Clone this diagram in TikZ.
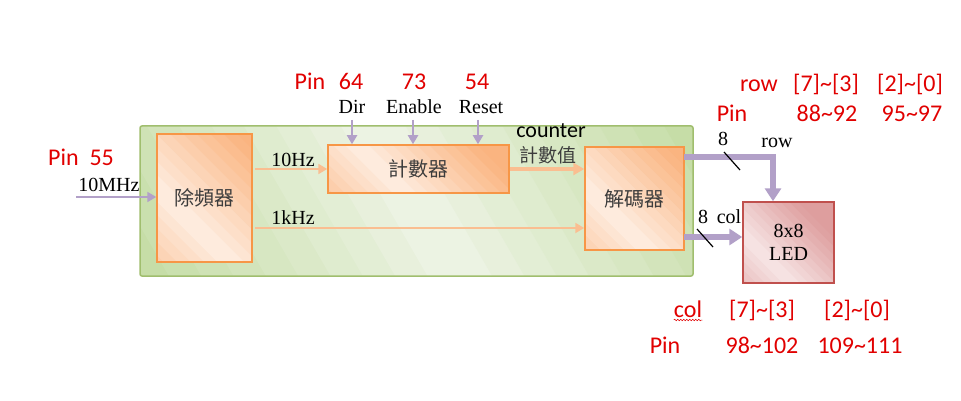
\documentclass[tikz,border=0pt]{standalone}
\usepackage{fontspec}
\setmainfont{Liberation Serif}
\newfontfamily\calfont{Carlito}
\newfontfamily\cjk{Noto Sans CJK TC}
\usetikzlibrary{arrows.meta,decorations.pathmorphing}
\definecolor{grnB}{RGB}{160,190,110}
\definecolor{grnD}{RGB}{196,220,164}
\definecolor{grnL}{RGB}{238,244,230}
\definecolor{orB}{RGB}{247,150,70}
\definecolor{orD}{RGB}{250,180,128}
\definecolor{orL}{RGB}{254,238,226}
\definecolor{ledB}{RGB}{192,80,77}
\definecolor{ledD}{RGB}{222,158,158}
\definecolor{ledL}{RGB}{247,230,230}
\definecolor{purp}{RGB}{178,160,200}
\definecolor{orA}{RGB}{250,190,145}
\definecolor{pinred}{RGB}{225,0,0}
\definecolor{txtg}{RGB}{60,60,60}
\tikzset{
  gradfill/.style n args={4}{path picture={
    \begin{scope}[shift={(path picture bounding box.center)}]
    \pgfmathsetmacro\gcs{cos(#4)}
    \pgfmathsetmacro\gsn{sin(#4)}
    \pgfmathsetmacro\gR{2*#3}
    \foreach \i in {-20,...,19}{
      \pgfmathsetmacro\mixv{min(100,100*abs(\i+0.5)/10)}
      \pgfmathsetmacro\ga{\i*#3/10}
      \pgfmathsetmacro\gb{(\i+1)*#3/10+0.6}
      \fill[#1!\mixv!#2]
        ({(\ga*\gcs+\gR*\gsn)*1pt},{(\ga*\gsn-\gR*\gcs)*1pt}) --
        ({(\gb*\gcs+\gR*\gsn)*1pt},{(\gb*\gsn-\gR*\gcs)*1pt}) --
        ({(\gb*\gcs-\gR*\gsn)*1pt},{(\gb*\gsn+\gR*\gcs)*1pt}) --
        ({(\ga*\gcs-\gR*\gsn)*1pt},{(\ga*\gsn+\gR*\gcs)*1pt}) -- cycle;
    }
    \end{scope}}},
  greenbox/.style={draw=grnB,line width=1.5pt,rounded corners=2pt,gradfill={grnD}{grnL}{280}{30},minimum width=553pt,minimum height=150pt,inner sep=0pt},
  orbox/.style={draw=orB,line width=1.5pt,inner sep=0pt,font=\cjk\fontsize{20}{24}\selectfont,text=txtg},
  ledbox/.style={draw=ledB,line width=1.5pt,gradfill={ledD}{ledL}{62}{45},inner sep=0pt,minimum width=91pt,minimum height=81pt},
  thinp/.style={draw=purp,line width=2pt,-{Triangle[length=9pt,width=10pt]}},
  thino/.style={draw=orA,line width=2pt,-{Triangle[length=9pt,width=10pt]}},
  thicko/.style={draw=orA,line width=4.5pt,-{Triangle[length=11pt,width=12pt]}},
  thickp/.style={draw=purp,line width=5.5pt,-{Triangle[length=13pt,width=16pt]}},
  serif/.style={font=\fontsize{20}{24}\selectfont,inner sep=0pt,anchor=base},
  pin/.style={font=\calfont\fontsize{24}{28}\selectfont,text=pinred,inner sep=0pt,anchor=base},
  slash/.style={draw=black,line width=1.2pt},
}
\begin{document}
\begin{tikzpicture}[x=1pt,y=-1pt]
\useasboundingbox[fill=white] (0,0) rectangle (961,401);
% boxes
\node[greenbox] (board) at (416.5,201) {};
\node[orbox,gradfill={orD}{orL}{95}{45},minimum width=95pt,minimum height=128pt] (div) at (204.5,198) {除頻器};
\node[orbox,gradfill={orD}{orL}{85}{45},minimum width=181pt,minimum height=48pt] (cnt) at (418.5,169) {計數器};
\node[orbox,gradfill={orD}{orL}{85}{45},minimum width=99pt,minimum height=103pt] (dec) at (634.5,198.5) {解碼器};
\node[ledbox,align=center,font=\fontsize{20}{23}\selectfont] (led) at (788.5,242.5) {8x8\\LED};
% coordinates
\coordinate (in10) at (76,197);
\coordinate (hz10) at (255,169);
\coordinate (khz) at (255,228);
\coordinate (dirT) at (352,120);
\coordinate (enT) at (413,120);
\coordinate (rsT) at (478,120);
\coordinate (rowS) at (684,157);
\coordinate (rowC) at (773,157);
\coordinate (colS) at (684,237);
% connectors
\draw[thinp] (in10) -- (in10 -| div.west);
\draw[thino] (hz10) -- (hz10 -| cnt.west);
\draw[thino] (khz) -- (khz -| dec.west);
\draw[thinp] (dirT) -- (dirT |- cnt.north);
\draw[thinp] (enT) -- (enT |- cnt.north);
\draw[thinp] (rsT) -- (rsT |- cnt.north);
\draw[thicko] (cnt.east) -- (cnt.east -| dec.west);
\draw[thickp] (rowS) -- (rowC) -- (rowC |- led.north);
\draw[thickp] (colS) -- (colS -| led.west);
% bus slashes
\coordinate (rs1) at (724,152); \coordinate (rs2) at (740,170);
\coordinate (cs1) at (697,229); \coordinate (cs2) at (713,247);
\draw[slash] (rs1) -- (rs2);
\draw[slash] (cs1) -- (cs2);
% black labels
\node[serif] (l10m) at (109,191) {10MHz};
\node[serif] (l10h) at (293,166) {10Hz};
\node[serif] (l1k) at (293,224) {1kHz};
\node[serif] (ldir) at (352,114) {Dir};
\node[serif] (len) at (414,114) {Enable};
\node[serif] (lrs) at (481,114) {Reset};
\node[serif] (lrow) at (777,148) {row};
\node[serif] (l8r) at (723,146) {8};
\node[serif] (l8c) at (703,223) {8};
\node[serif] (lcol) at (729,223) {col};
\node[font=\cjk\fontsize{19}{23}\selectfont,text=txtg,inner sep=0pt,anchor=base,text height=14pt,text depth=1pt] (lcv) at (548,162) {計數值};
\node[font=\calfont\fontsize{22}{26}\selectfont,inner sep=0pt,anchor=base,text depth=0pt] (lcounter) at (551,138) {counter};
% red pin labels
\node[pin] (p55) at (81,165) {Pin\ \ 55};
\node[pin] (pp) at (310,90) {Pin};
\node[pin] (p64) at (351,90) {64};
\node[pin] (p73) at (414,90) {73};
\node[pin] (p54) at (477,90) {54};
\node[pin] (rrow) at (759,92) {row};
\node[pin] (r73) at (826,92) {[7]\textasciitilde[3]};
\node[pin] (r20) at (910,92) {[2]\textasciitilde[0]};
\node[pin] (rpin) at (732,122) {Pin};
\node[pin] (r8892) at (827,122) {88\textasciitilde92};
\node[pin] (r9597) at (912,122) {95\textasciitilde97};
\node[pin] (ccol) at (688,317) {col};
\node[pin] (c73) at (762,317) {[7]\textasciitilde[3]};
\node[pin] (c20) at (857,317) {[2]\textasciitilde[0]};
\node[pin] (cpin) at (665,353) {Pin};
\node[pin] (c98) at (762,353) {98\textasciitilde102};
\node[pin] (c109) at (860,353) {109\textasciitilde111};
\draw[pinred,line width=0.5pt,decorate,decoration={snake,amplitude=0.8pt,segment length=3pt}] ([yshift=-3pt]ccol.base west) -- ([yshift=-3pt]ccol.base east);
\end{tikzpicture}
\end{document}
